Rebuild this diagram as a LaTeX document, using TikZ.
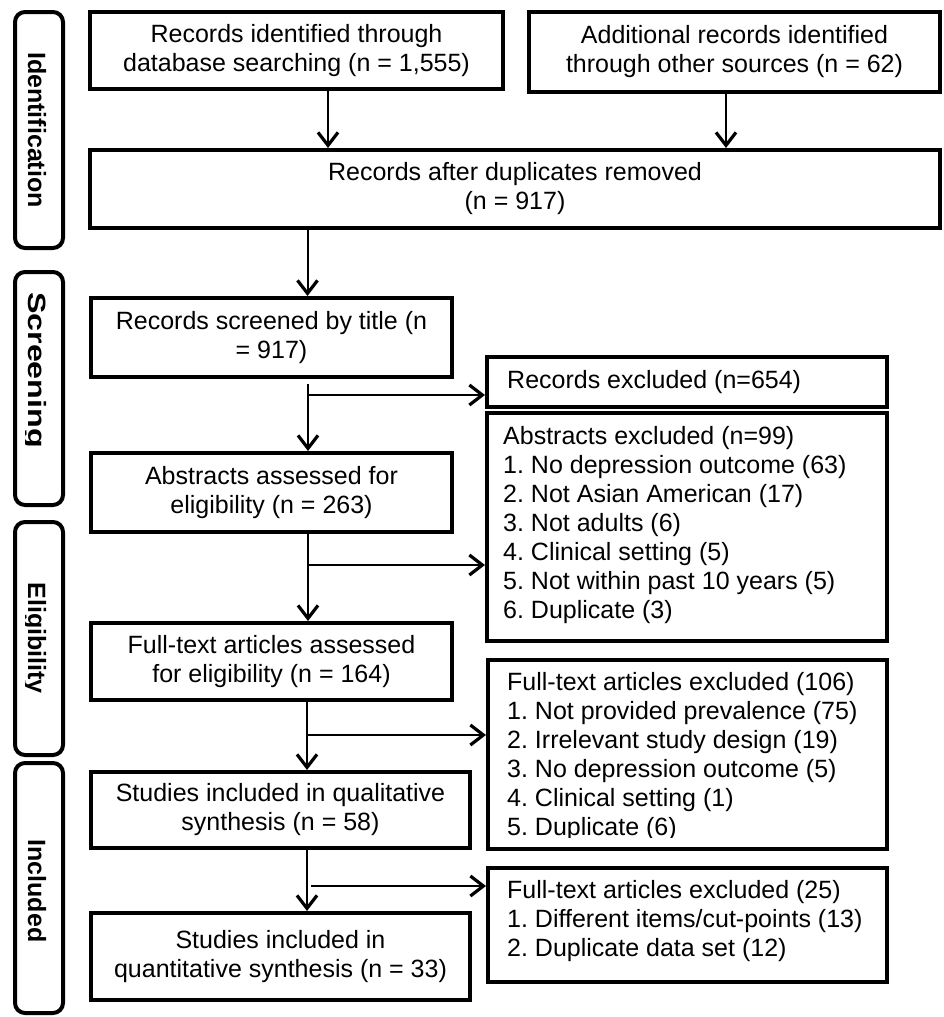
\documentclass[tikz,border=0pt]{standalone}
\usepackage{fontspec}
\setmainfont{Liberation Sans}
\usepackage{graphicx}
\usetikzlibrary{arrows.meta}
\frenchspacing
\begin{document}
\begin{tikzpicture}[x=1pt,y=-1pt,
  box/.style={draw=black, line width=4pt, rectangle, inner sep=0pt, align=center, font=\fontsize{25}{29}\selectfont},
  listtext/.style={inner sep=0pt, align=left, anchor=west, font=\fontsize{25}{29}\selectfont},
  sidebox/.style={draw=black, line width=4pt, rounded corners=10pt, rectangle, inner sep=0pt, minimum width=48pt},
  sidetext/.style={rotate=-90, anchor=base, inner sep=0pt, font=\fontsize{25}{29}\selectfont\bfseries},
  arr/.style={line width=2pt, -{Straight Barb[length=13pt,width=20pt,line width=3.2pt]}}
]
\fill[white] (0,0) rectangle (943,1017);
\useasboundingbox (0,0) rectangle (943,1017);

% side labels
\node[sidebox, minimum height=236pt] (sIdent) at (39,130) {};
\node[sidetext] (tIdent) at (28,130) {Identification};
\node[sidebox, minimum height=233pt] (sScreen) at (39,388.5) {};
\begin{scope}
\clip (25,272) rectangle (63,505);
\node[sidetext] (tScreen) at (28,370) {\scalebox{1.29}[1]{Screening}};
\end{scope}
\node[sidebox, minimum height=233pt] (sElig) at (39,638.5) {};
\begin{scope}
\clip (25,522) rectangle (63,755);
\node[sidetext] (tElig) at (28,638) {Eligibility};
\end{scope}
\node[sidebox, minimum height=250pt] (sIncl) at (39,888) {};
\node[sidetext] (tIncl) at (28,891) {Included};

% main boxes
\node[box, minimum width=413pt, minimum height=77pt] (A) at (296.5,50.5) {Records identified through\\database searching (n = 1,555)};
\node[box, minimum width=411pt, minimum height=80pt] (B) at (734.5,52) {Additional records identified\\through other sources (n = 62)};
\node[box, minimum width=850pt, minimum height=78pt] (C) at (515,189) {Records after duplicates removed\\(n = 917)};
\node[box, minimum width=361pt, minimum height=79pt] (D) at (271.5,337.5) {Records screened by title (n\\= 917)};
\node[box, minimum width=361pt, minimum height=79pt] (G) at (271.5,492.5) {Abstracts assessed for\\eligibility (n = 263)};
\node[box, minimum width=361pt, minimum height=77pt] (H) at (271.5,661.5) {Full-text articles assessed\\for eligibility (n = 164)};
\node[box, minimum width=379pt, minimum height=76pt] (J) at (280.5,810) {Studies included in qualitative\\synthesis (n = 58)};
\node[box, minimum width=379pt, minimum height=87pt] (L) at (280.5,956.5) {Studies included in\\quantitative synthesis (n = 33)};

% exclusion boxes
\node[box, minimum width=400pt, minimum height=50pt] (E) at (687,382) {};
\node[listtext] (Etext) at (507,382) {Records excluded (n=654)};
\node[box, minimum width=400pt, minimum height=228pt] (F) at (687,527) {};
\node[listtext] (Ftext) at (503,525.5) {Abstracts excluded (n=99)\\1. No depression outcome (63)\\2. Not Asian American (17)\\3. Not adults (6)\\4. Clinical setting (5)\\5. Not within past 10 years (5)\\6. Duplicate (3)};
\node[box, minimum width=399pt, minimum height=189pt] (I) at (687.5,754.5) {};
\begin{scope}
\clip (489,662) rectangle (886,837);
\node[listtext] (Itext) at (507,756.5) {Full-text articles excluded (106)\\1. Not provided prevalence (75)\\2. Irrelevant study design (19)\\3. No depression outcome (5)\\4. Clinical setting (1)\\5. Duplicate (6)};
\end{scope}
\node[box, minimum width=399pt, minimum height=114pt] (K) at (687.5,925) {};
\node[listtext] (Ktext) at (507,921.5) {Full-text articles excluded (25)\\1. Different items/cut-points (13)\\2. Duplicate data set (12)};

% connectors
\coordinate (x1) at (328,0);
\coordinate (x2) at (726,0);
\coordinate (xm) at (307.5,0);
\draw[arr] (A.south -| x1) -- (C.north -| x1);
\draw[arr] (B.south -| x2) -- (C.north -| x2);
\draw[arr] (C.south -| xm) -- (D.north -| xm);

\coordinate (j1) at (308,395);
\coordinate (d1) at ([yshift=-5pt]D.south);
\draw[arr] (d1 -| j1) -- (G.north -| j1);
\draw[arr] (j1) -- (j1 -| E.west);

\coordinate (j2) at (308,565);
\draw[arr] (G.south -| j2) -- (H.north -| j2);
\draw[arr] (j2) -- (j2 -| F.west);

\coordinate (j3) at (307,735);
\draw[arr] (H.south -| j3) -- (J.north -| j3);
\draw[arr] (j3) -- (j3 -| I.west);

\coordinate (j4) at (307,886);
\coordinate (j4b) at (311,886);
\draw[arr] (J.south -| j4) -- (L.north -| j4);
\draw[arr] (j4b) -- (j4b -| K.west);
\end{tikzpicture}
\end{document}
